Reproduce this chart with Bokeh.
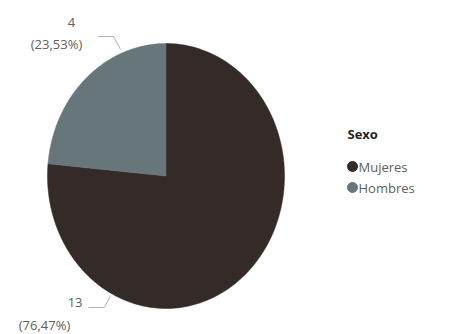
import math
from bokeh.plotting import figure
from bokeh.models import Range1d
from bokeh.core.properties import value
from bokeh.embed import file_html
from bokeh.resources import INLINE

# ---- data ----
categories = ["Mujeres", "Hombres"]
counts = [13, 4]
colors = ["#342A28", "#67767A"]
legend_title = "Sexo"

FONT = "Open Sans"
LABEL_COLOR = "#605E5C"

W, H = 462, 334
p = figure(width=W, height=H, output_backend="svg", toolbar_location=None,
           x_range=Range1d(0, W), y_range=Range1d(H, 0), min_border=0)
p.axis.visible = False
p.grid.visible = False
p.outline_line_color = None
p.background_fill_color = None
p.border_fill_color = "white"

# pie (slightly elliptical, as in the reference)
cx, cy, rx, ry = 165.5, 175.5, 118.5, 132.5
total = sum(counts)

def pct(v):
    return ("%.2f" % (100.0 * v / total)).replace(".", ",") + "%"

h_frac = counts[1] / total
angles = {
    "Hombres": (90.0, 90.0 + 360.0 * h_frac),
    "Mujeres": (90.0 + 360.0 * h_frac, 450.0),
}
xs, ys, fills = [], [], []
for cat, col in zip(categories, colors):
    a0, a1 = angles[cat]
    n = 200
    px = [cx]
    py = [cy]
    for i in range(n + 1):
        t = math.radians(a0 + (a1 - a0) * i / n)
        px.append(cx + rx * math.cos(t))
        py.append(cy - ry * math.sin(t))
    xs.append(px)
    ys.append(py)
    fills.append(col)
p.patches(xs, ys, fill_color=fills, line_color=fills, line_width=0.5)

# data labels with leader lines
lab_pos = {
    "Hombres": dict(line_x=[97, 113, 120], line_y=[36, 36, 49],
                    num=(71, 22, "center"), pc=(56, 43, "center")),
    "Mujeres": dict(line_x=[88, 104, 110], line_y=[307, 307, 295],
                    num=(82, 302, "right"), pc=(44, 324, "center")),
}
for cat, v in zip(categories, counts):
    lp = lab_pos[cat]
    p.line(lp["line_x"], lp["line_y"], line_color="#B3B0AD", line_width=1)
    p.text(x=[lp["num"][0]], y=[lp["num"][1]], text=[str(v)],
           text_font=value(FONT), text_font_size="13px", text_color=LABEL_COLOR,
           text_align=lp["num"][2], text_baseline="alphabetic")
    p.text(x=[lp["pc"][0]], y=[lp["pc"][1]], text=["(" + pct(v) + ")"],
           text_font=value(FONT), text_font_size="13px", text_color=LABEL_COLOR,
           text_align=lp["pc"][2], text_baseline="alphabetic")

# legend
p.text(x=[347], y=[133], text=[legend_title], text_font=value(FONT),
       text_font_size="13px", text_font_style="bold", text_color="#252423",
       text_baseline="alphabetic")
leg_y = [166, 187]
p.scatter(x=[352, 352], y=leg_y, size=10, marker="circle",
          fill_color=colors, line_color=colors)
p.text(x=[358, 358], y=leg_y, text=categories, text_font=value(FONT),
       text_font_size="13px", text_color=LABEL_COLOR, text_baseline="middle")

open("out.html", "w").write(file_html(p, INLINE))
